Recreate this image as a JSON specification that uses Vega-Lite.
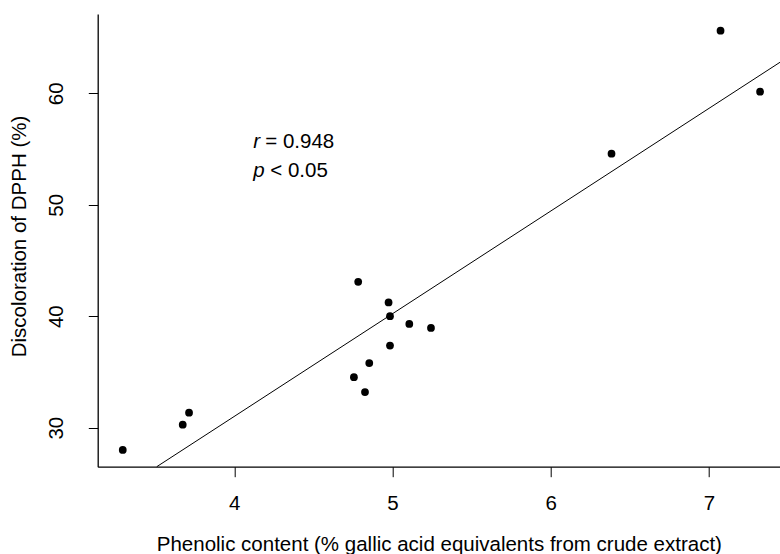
{
  "$schema": "https://vega.github.io/schema/vega-lite/v6.json",
  "width": 682.3,
  "height": 452.7,
  "autosize": {"type": "none"},
  "padding": {"left": 97.7, "top": 14, "right": 0, "bottom": 87.3},
  "background": "white",
  "config": {
    "view": {"stroke": null},
    "font": "Liberation Sans",
    "axis": {
      "grid": false,
      "domainColor": "black",
      "domainWidth": 1.3,
      "tickColor": "black",
      "tickWidth": 1,
      "labelColor": "black",
      "titleColor": "black",
      "labelFont": "Liberation Sans",
      "titleFont": "Liberation Sans",
      "labelFontSize": 20.5,
      "titleFontSize": 20.5,
      "titleFontWeight": "normal"
    }
  },
  "datasets": {
    "points": [
      {"phenolic": 3.295, "dpph": 28.0},
      {"phenolic": 3.674, "dpph": 30.27},
      {"phenolic": 3.714, "dpph": 31.35},
      {"phenolic": 4.783, "dpph": 43.08},
      {"phenolic": 4.975, "dpph": 41.23},
      {"phenolic": 4.984, "dpph": 40.0},
      {"phenolic": 4.984, "dpph": 37.37},
      {"phenolic": 4.853, "dpph": 35.8},
      {"phenolic": 4.756, "dpph": 34.53},
      {"phenolic": 4.826, "dpph": 33.2},
      {"phenolic": 5.106, "dpph": 39.31},
      {"phenolic": 5.243, "dpph": 38.95},
      {"phenolic": 6.384, "dpph": 54.58},
      {"phenolic": 7.073, "dpph": 65.61},
      {"phenolic": 7.323, "dpph": 60.14}
    ],
    "fit": [
      {"phenolic": 3.51, "dpph": 26.5},
      {"phenolic": 7.4488, "dpph": 62.78}
    ],
    "stats": [
      {"phenolic": 4.12, "dpph": 55.07, "sym": "r", "rest": "= 0.948", "shift": 12},
      {"phenolic": 4.12, "dpph": 52.52, "sym": "p", "rest": "< 0.05", "shift": 17}
    ]
  },
  "layer": [
    {
      "data": {"name": "fit"},
      "mark": {"type": "line", "color": "black", "strokeWidth": 1},
      "encoding": {
        "x": {
          "field": "phenolic", "type": "quantitative",
          "scale": {"domain": [3.1367, 7.4488], "nice": false, "zero": false},
          "axis": {
            "title": "Phenolic content (% gallic acid equivalents from crude extract)",
            "values": [4, 5, 6, 7],
            "format": "d",
            "tickSize": 10,
            "labelPadding": 16.5,
            "labelFlush": false,
            "labelOverlap": false,
            "titleY": 83.3,
            "titleBaseline": "alphabetic"
          }
        },
        "y": {
          "field": "dpph", "type": "quantitative",
          "scale": {"domain": [26.5, 67.11], "nice": false, "zero": false},
          "axis": {
            "title": "Discoloration of DPPH (%)",
            "values": [30, 40, 50, 60],
            "format": "d",
            "tickSize": 9.4,
            "labelAngle": -90,
            "labelAlign": "center",
            "labelBaseline": "alphabetic",
            "labelPadding": 25.3,
            "labelFlush": false,
            "labelOverlap": false,
            "titleAngle": -90,
            "titleAlign": "center",
            "titleBaseline": "middle",
            "titleX": -78.2,
            "titleY": 222
          }
        }
      }
    },
    {
      "data": {"name": "points"},
      "mark": {"type": "point", "filled": true, "color": "black", "opacity": 1, "size": 60},
      "encoding": {
        "x": {"field": "phenolic", "type": "quantitative"},
        "y": {"field": "dpph", "type": "quantitative"}
      }
    },
    {
      "data": {"name": "stats"},
      "mark": {"type": "text", "align": "left", "baseline": "alphabetic", "fontSize": 20.5, "fontStyle": "italic", "color": "black", "font": "Liberation Sans"},
      "encoding": {
        "x": {"field": "phenolic", "type": "quantitative"},
        "y": {"field": "dpph", "type": "quantitative"},
        "text": {"field": "sym"}
      }
    },
    {
      "data": {"name": "stats"},
      "transform": [{"filter": "datum.sym === 'r'"}],
      "mark": {"type": "text", "align": "left", "baseline": "alphabetic", "fontSize": 20.5, "color": "black", "font": "Liberation Sans", "dx": 12},
      "encoding": {
        "x": {"field": "phenolic", "type": "quantitative"},
        "y": {"field": "dpph", "type": "quantitative"},
        "text": {"field": "rest"}
      }
    },
    {
      "data": {"name": "stats"},
      "transform": [{"filter": "datum.sym === 'p'"}],
      "mark": {"type": "text", "align": "left", "baseline": "alphabetic", "fontSize": 20.5, "color": "black", "font": "Liberation Sans", "dx": 17},
      "encoding": {
        "x": {"field": "phenolic", "type": "quantitative"},
        "y": {"field": "dpph", "type": "quantitative"},
        "text": {"field": "rest"}
      }
    }
  ]
}
